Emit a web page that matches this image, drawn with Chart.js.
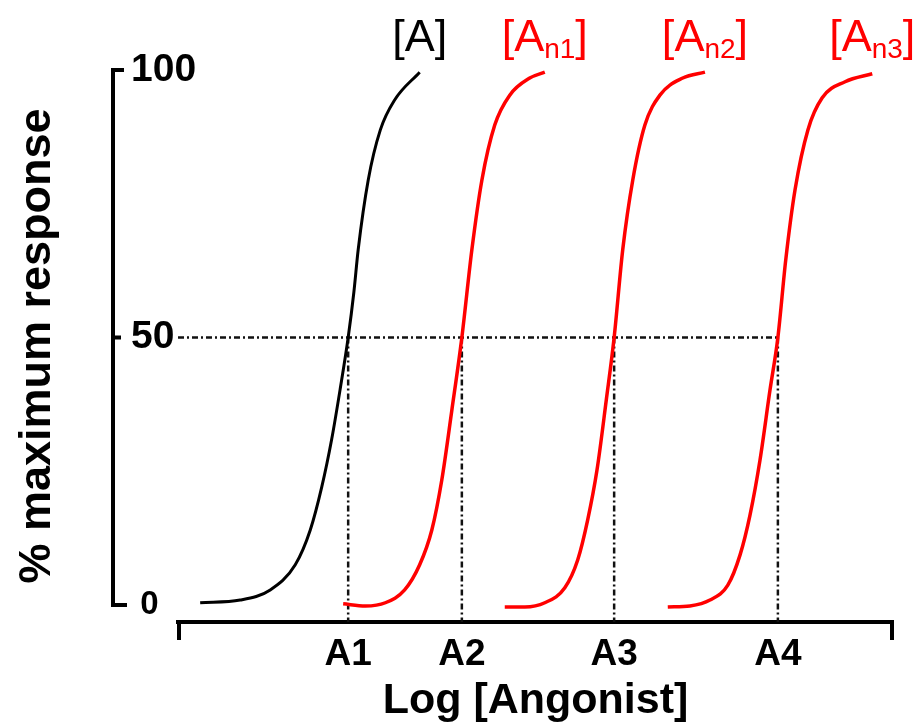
<!DOCTYPE html>
<html>
<head>
<meta charset="utf-8">
<script src="https://cdn.jsdelivr.net/npm/chart.js@4.4.1/dist/chart.umd.min.js"></script>
<style>
  html, body { margin: 0; background: #fff; }
</style>
</head>
<body>
<canvas id="chart" width="917" height="727"></canvas>
<script>
// curve for agonist alone [A]
const curveAx = [3.1, 8.7, 12.9, 16.4, 18.5, 20.1, 21.5, 22.7, 23.8, 24.6, 25.2, 26.6, 28.3, 30.3, 33.8];
const curveAy = [0.4, 0.9, 2.8, 7.5, 14, 22, 31, 40.5, 50, 58.5, 66.4, 79.4, 88.8, 94.4, 99.6];
// shifted curves [An1], [An2], [An3]
const curveN1x = [23.1, 26.2, 29.0, 31.7, 33.8, 35.5, 36.9, 38.3, 39.7, 41.1, 42.5, 44.3, 46.4, 49.2, 51.3];
const curveN1y = [0.2, -0.2, 0.4, 2.8, 7.5, 14, 23.4, 36.4, 50, 66.4, 79.4, 89.7, 95.3, 98.5, 99.6];
const curveN2x = [45.7, 48.5, 51.3, 54.1, 55.9, 57.3, 58.6, 59.9, 61.0, 62.2, 63.6, 65.3, 67.4, 70.6, 73.7];
const curveN2y = [-0.4, -0.4, 0.4, 3.2, 8.4, 15.9, 25.2, 38.3, 50, 66.4, 79.4, 89.7, 95.3, 98.5, 99.6];
const curveN3x = [68.5, 71.6, 74.4, 76.9, 78.6, 80.0, 81.4, 82.8, 83.9, 85.0, 86.3, 88.1, 90.1, 93.3, 97.1];
const curveN3y = [-0.4, -0.2, 0.9, 3.7, 9.3, 16.8, 27.1, 40.2, 50, 64.5, 77.6, 88.8, 94.8, 97.8, 99.3];

const seriesNames = ["A", "n1", "n2", "n3"];
const halfX = [23.8, 39.7, 61.0, 83.9];
const halfLabels = ["A1", "A2", "A3", "A4"];
const halfY = 50;
const yTicks = [0, 50, 100];

const FONT = "'Liberation Sans', Arial, sans-serif";
Chart.defaults.font.family = FONT;
Chart.defaults.color = "#000";

function pts(xs, ys) {
  return xs.map((x, i) => ({ x: x, y: ys[i] }));
}

const curveStyle = (color, w) => ({
  borderColor: color,
  borderWidth: w,
  pointRadius: 0,
  fill: false,
  cubicInterpolationMode: "monotone",
});
const dashStyle = {
  borderColor: "#111",
  borderWidth: 2.5,
  borderDash: [6, 3, 2, 3],
  pointRadius: 0,
  fill: false,
};

const datasets = [
  { label: "[A]", data: pts(curveAx, curveAy), ...curveStyle("#000", 3) },
  { label: "[An1]", data: pts(curveN1x, curveN1y), ...curveStyle("#ff0000", 3.5) },
  { label: "[An2]", data: pts(curveN2x, curveN2y), ...curveStyle("#ff0000", 3.5) },
  { label: "[An3]", data: pts(curveN3x, curveN3y), ...curveStyle("#ff0000", 3.5) },
  { label: "50%", data: [{ x: 0, y: halfY }, { x: halfX[halfX.length - 1], y: halfY }], ...dashStyle },
];
halfX.forEach((v, i) => {
  datasets.push({ label: halfLabels[i], data: [{ x: v, y: halfY }, { x: v, y: -3.2 }], ...dashStyle });
});

// offset y axis, end ticks on x axis and curve labels on top
const decorPlugin = {
  id: "decor",
  afterDraw(chart) {
    const { ctx, chartArea, scales: { x, y } } = chart;
    ctx.save();
    ctx.strokeStyle = "#000";
    ctx.lineWidth = 4;
    const ax = 113;
    const top = y.getPixelForValue(100);
    const mid = y.getPixelForValue(50);
    const bot = y.getPixelForValue(0);
    ctx.beginPath();
    ctx.moveTo(ax + 11, top);
    ctx.lineTo(ax, top);
    ctx.lineTo(ax, bot);
    ctx.lineTo(ax + 14, bot);
    ctx.moveTo(ax, mid);
    ctx.lineTo(ax + 8, mid);
    ctx.stroke();

    ctx.beginPath();
    ctx.moveTo(chartArea.left + 1, chartArea.bottom);
    ctx.lineTo(chartArea.left + 1, chartArea.bottom + 18);
    ctx.moveTo(chartArea.right - 1, chartArea.bottom);
    ctx.lineTo(chartArea.right - 1, chartArea.bottom + 18);
    ctx.stroke();

    // [A], [An1] ...
    ctx.textBaseline = "alphabetic";
    const base = 51;
    chart.data.datasets.slice(0, 4).forEach((ds, i) => {
      const last = ds.data[ds.data.length - 1];
      const cx = x.getPixelForValue(last.x);
      const sub = i === 0 ? "" : seriesNames[i];
      ctx.font = "45px " + FONT;
      const wA = ctx.measureText("[A").width;
      const wB = ctx.measureText("]").width;
      ctx.font = "28px " + FONT;
      const wS = sub ? ctx.measureText(sub).width : 0;
      let px = cx - (wA + wS + wB) / 2;
      ctx.fillStyle = ds.borderColor;
      ctx.font = "45px " + FONT;
      ctx.fillText("[A", px, base);
      px += wA;
      if (sub) {
        ctx.font = "28px " + FONT;
        ctx.fillText(sub, px, base + 7);
        px += wS;
      }
      ctx.font = "45px " + FONT;
      ctx.fillText("]", px, base);
    });
    ctx.restore();
  },
};

new Chart(document.getElementById("chart").getContext("2d"), {
  type: "line",
  data: { datasets: datasets },
  options: {
    responsive: false,
    animation: false,
    layout: { padding: { top: 70, right: 24, left: 0, bottom: 0 } },
    plugins: { legend: { display: false }, tooltip: { enabled: false } },
    scales: {
      x: {
        type: "linear",
        min: 0,
        max: 100,
        grid: { display: false, drawTicks: false },
        border: { display: true, width: 4, color: "#000" },
        afterBuildTicks: (s) => { s.ticks = halfX.map((v) => ({ value: v })); },
        afterFit: (s) => { s.height = 105; },
        ticks: {
          padding: 11,
          maxRotation: 0,
          autoSkip: false,
          font: { size: 37, weight: "bold" },
          callback: (v, i) => halfLabels[i],
        },
        title: {
          display: true,
          text: "Log [Angonist]",
          font: { size: 43, weight: "bold" },
          padding: 0,
        },
      },
      y: {
        min: -3.2,
        max: 100,
        grid: { display: false, drawTicks: false },
        border: { display: false },
        afterBuildTicks: (s) => { s.ticks = yTicks.map((v) => ({ value: v })); },
        afterFit: (s) => { s.width = 178; },
        ticks: {
          mirror: true,
          padding: -47,
          font: (c) => ({ size: c.tick && c.tick.value === 0 ? 33 : 39, weight: "bold" }),
          callback: (v) => (v === 0 ? " 0" : String(v)),
        },
        title: {
          display: true,
          text: "% maximum response",
          font: { size: 45, weight: "bold" },
          padding: { top: 11, bottom: 0 },
        },
      },
    },
  },
  plugins: [decorPlugin],
});
</script>
</body>
</html>
